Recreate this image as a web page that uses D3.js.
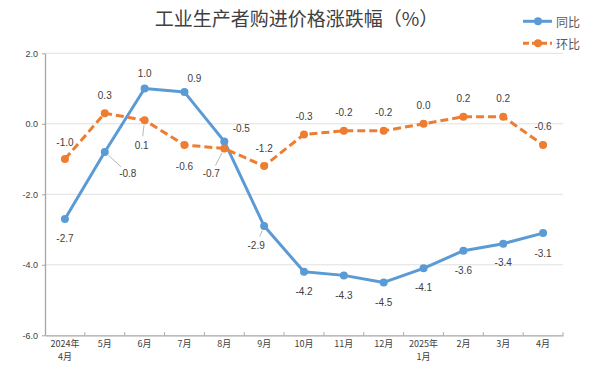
<!DOCTYPE html>
<html>
<head>
<meta charset="utf-8">
<script src="https://cdn.jsdelivr.net/npm/d3@7"></script>
<style>
  body { margin: 0; background: #fff; }
  svg { display: block; }
</style>
</head>
<body>
<div id="chart"></div>
<script>
// data
const months = ['2024年\n4月', '5月', '6月', '7月', '8月', '9月', '10月', '11月', '12月', '2025年\n1月', '2月', '3月', '4月'];
const yoy = [-2.7, -0.8, 1.0, 0.9, -0.5, -2.9, -4.2, -4.3, -4.5, -4.1, -3.6, -3.4, -3.1];   // 同比
const mom = [-1.0, 0.3, 0.1, -0.6, -0.7, -1.2, -0.3, -0.2, -0.2, 0.0, 0.2, 0.2, -0.6];    // 环比
const yTicks = [2, 0, -2, -4, -6];

// label placement (dx, dy from the point), third item = draw a small pointer line
const yoyLabelPos = [[0, 20], [23, 21, 1], [0, -15], [10, -14], [17, -13], [-8, 19, 1],
    [0, 20], [0, 20], [0, 20], [0, 19], [0, 20], [0, 19], [0, 20]];
const momLabelPos = [[0, -17], [0, -18], [-3, 25, 1], [0, 22], [-13, 25, 1], [0, -18],
    [0, -18], [0, -18], [0, -18], [0, -18], [0, -18], [0, -18], [0, -18]];

const W = 600, H = 369;
const margin = {top: 53.3, left: 45, right: 37, bottom: 33.7};
const blue = '#5b9bd5', orange = '#ed7d31';
const latin = '"Liberation Sans", Arial, sans-serif';
const cjk = '"Noto Sans CJK SC", "Liberation Sans", sans-serif';

const svg = d3.select('#chart').append('svg')
    .attr('width', W).attr('height', H);

const x = d3.scaleBand()
    .domain(months)
    .range([margin.left, W - margin.right])
    .padding(0);
const y = d3.scaleLinear()
    .domain([-6, 2])
    .range([H - margin.bottom, margin.top]);
const cx = d => x(d) + x.bandwidth() / 2;
const fmt = v => v.toFixed(1);

// gridlines
svg.append('g').selectAll('line')
    .data(yTicks.filter(t => t > -6)).enter()
    .append('line')
    .attr('x1', margin.left).attr('x2', W - margin.right)
    .attr('y1', d => y(d)).attr('y2', d => y(d))
    .attr('stroke', '#e0e0e0').attr('stroke-width', 1);

// y axis
let yAxis = svg.append('g')
    .attr('transform', `translate(${margin.left},0)`)
    .call(d3.axisLeft(y).tickValues(yTicks).tickFormat(fmt).tickSize(3).tickSizeOuter(0));
yAxis.select('.domain').attr('stroke', '#a6a6a6').attr('stroke-width', 1.3);
yAxis.selectAll('.tick line').attr('stroke', '#a6a6a6');
yAxis.selectAll('.tick text')
    .attr('x', -7)
    .style('font-family', latin).style('font-size', '9px').attr('fill', '#404040');

// x axis
let xAxis = svg.append('g')
    .attr('transform', `translate(0,${y(-6)})`)
    .call(d3.axisBottom(x).tickSize(0).tickSizeOuter(0));
xAxis.select('.domain').attr('stroke', '#a6a6a6').attr('stroke-width', 1.3);
xAxis.selectAll('.tick text').each(function (d) {
    let t = d3.select(this).text('')
        .attr('y', 5)
        .style('font-family', cjk).style('font-size', '9px').attr('fill', '#404040');
    d.split('\n').forEach((s, i) => {
        t.append('tspan').attr('x', 0).attr('dy', i ? '1.45em' : '0.71em').text(s);
    });
});
// boundary ticks pointing up
xAxis.selectAll('.bound')
    .data(months.slice(1).map(m => x(m)).concat([x.range()[1]])).enter()
    .append('line')
    .attr('x1', d => d).attr('x2', d => d)
    .attr('y1', 0).attr('y2', -3)
    .attr('stroke', '#a6a6a6').attr('stroke-width', 1);

// series
const line = d3.line().x((d, i) => cx(months[i])).y(d => y(d));

function drawSeries(values, color, dash, labelPos) {
    let g = svg.append('g');
    g.append('path')
        .datum(values)
        .attr('d', line)
        .attr('fill', 'none')
        .attr('stroke', color)
        .attr('stroke-width', 3)
        .attr('stroke-dasharray', dash)
        .attr('stroke-linejoin', 'round');
    g.selectAll('circle')
        .data(values).enter()
        .append('circle')
        .attr('cx', (d, i) => cx(months[i]))
        .attr('cy', d => y(d))
        .attr('r', 4)
        .attr('fill', color);

    // leader lines
    values.forEach((v, i) => {
        let p = labelPos[i];
        if (!p[2]) return;
        let px = cx(months[i]), py = y(v);
        let len = Math.hypot(p[0], p[1]), ux = p[0] / len, uy = p[1] / len;
        g.append('line')
            .attr('x1', px + ux * 5).attr('y1', py + uy * 5)
            .attr('x2', px + p[0] - ux * 9).attr('y2', py + p[1] - uy * 9)
            .attr('stroke', '#a6a6a6').attr('stroke-width', 0.8);
    });

    g.selectAll('text')
        .data(values).enter()
        .append('text')
        .attr('x', (d, i) => cx(months[i]) + labelPos[i][0])
        .attr('y', (d, i) => y(d) + labelPos[i][1])
        .attr('text-anchor', 'middle')
        .attr('dominant-baseline', 'central')
        .style('font-family', latin).style('font-size', '10px')
        .attr('fill', '#404040')
        .text(fmt);
}

drawSeries(yoy, blue, null, yoyLabelPos);
drawSeries(mom, orange, '8,4', momLabelPos);

// title
svg.append('text')
    .attr('x', 296.5).attr('y', 26)
    .attr('text-anchor', 'middle')
    .style('font-family', cjk).style('font-size', '19px')
    .attr('fill', '#404040')
    .text('工业生产者购进价格涨跌幅（%）');

// legend
const legend = [['同比', blue, null, 21.3], ['环比', orange, '6,3', 43.3]];
let lg = svg.append('g').selectAll('g')
    .data(legend).enter()
    .append('g')
    .attr('transform', d => `translate(523,${d[3]})`);
lg.append('line')
    .attr('x1', 0).attr('x2', 29)
    .attr('stroke', d => d[1]).attr('stroke-width', 3)
    .attr('stroke-dasharray', d => d[2]);
lg.append('circle').attr('cx', 15).attr('r', 4).attr('fill', d => d[1]);
lg.append('text')
    .attr('x', 33).attr('dominant-baseline', 'central')
    .style('font-family', cjk).style('font-size', '12px')
    .attr('fill', '#595959')
    .text(d => d[0]);
</script>
</body>
</html>
